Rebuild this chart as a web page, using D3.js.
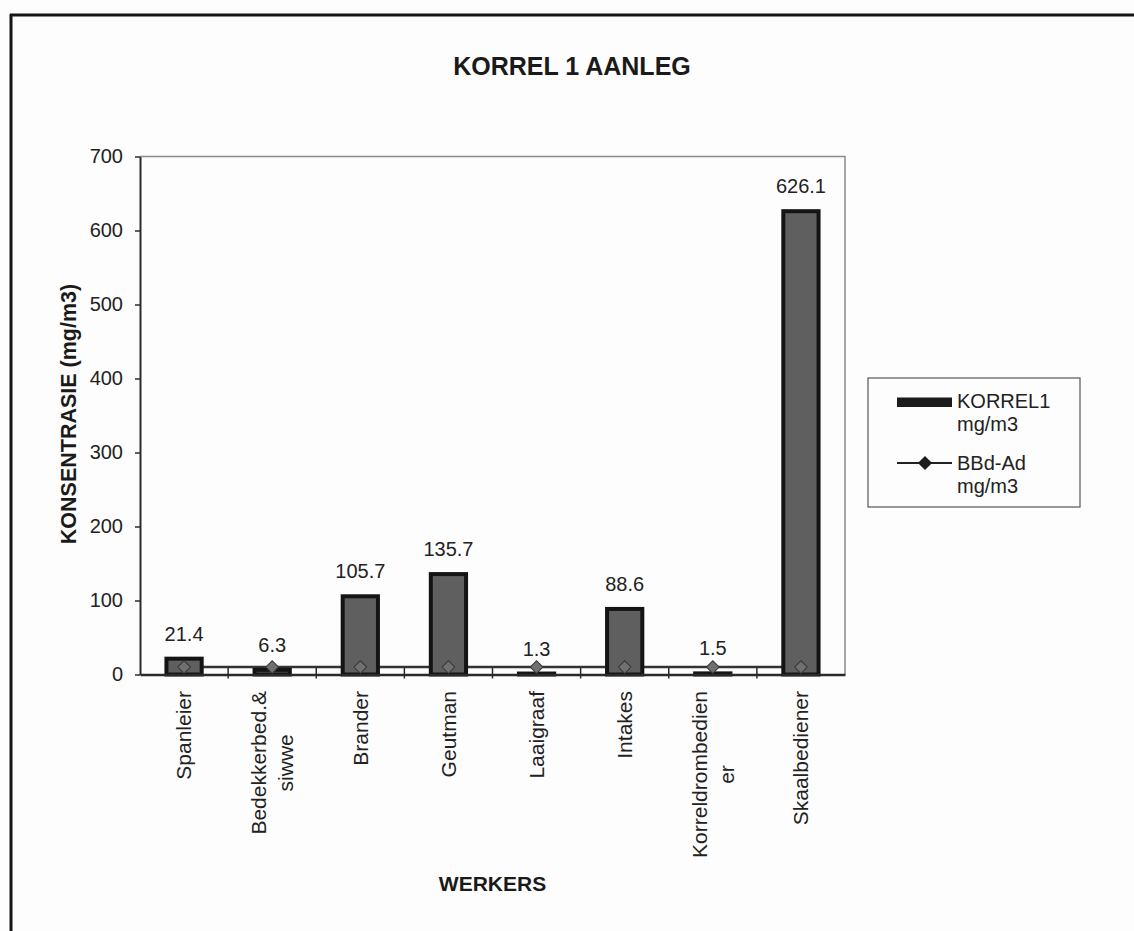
<!DOCTYPE html>
<html>
<head>
<meta charset="utf-8">
<script src="https://cdn.jsdelivr.net/npm/d3@7"></script>
<style>
  html, body { margin: 0; padding: 0; background: #fdfdfd; }
  svg { display: block; font-family: "Liberation Sans", Arial, sans-serif; }
</style>
</head>
<body>
<svg id="chart" width="1134" height="931"></svg>
<script>
// Dust concentration per worker group, KORREL 1 plant
const categories = ["Spanleier", "Bedekkerbed.&\nsiwwe", "Brander", "Geutman",
                    "Laaigraaf", "Intakes", "Korreldrombedien\ner", "Skaalbediener"];
const korrelValues = [21.4, 6.3, 105.7, 135.7, 1.3, 88.6, 1.5, 626.1];
const limitValues = [10, 10, 10, 10, 10, 10, 10, 10];
const yTicks = [0, 100, 200, 300, 400, 500, 600, 700];
const seriesNames = [["KORREL1", "mg/m3"], ["BBd-Ad", "mg/m3"]];
const chartTitle = "KORREL 1 AANLEG";
const xTitle = "WERKERS";
const yTitle = "KONSENTRASIE (mg/m3)";

const svg = d3.select("#chart");
const W = 1134, H = 931;
const plot = { left: 140, right: 845, top: 156.5, bottom: 674.5 };

svg.append("rect").attr("width", W).attr("height", H).attr("fill", "#fdfdfd");

// outer chart frame (top and left edges)
svg.append("line").attr("x1", 10).attr("x2", W).attr("y1", 15).attr("y2", 15)
  .attr("stroke", "#151515").attr("stroke-width", 3);
svg.append("line").attr("x1", 11).attr("x2", 11).attr("y1", 14).attr("y2", H)
  .attr("stroke", "#151515").attr("stroke-width", 3);

// title
svg.append("text").attr("x", 572).attr("y", 75).attr("text-anchor", "middle")
  .attr("font-size", 25).attr("font-weight", "bold").attr("fill", "#1a1a1a")
  .text(chartTitle);

const x = d3.scaleBand().domain(categories)
  .range([plot.left, plot.right]).paddingInner(0.6).paddingOuter(0.3);
const y = d3.scaleLinear().domain([0, 700]).range([plot.bottom, plot.top]);

// plot area frame (top and right)
svg.append("path")
  .attr("d", `M${plot.left},${plot.top}H${plot.right}V${plot.bottom}`)
  .attr("fill", "none").attr("stroke", "#8a8a8a").attr("stroke-width", 1.5);

// limit line (drawn beneath the bars)
const line = d3.line().x((d, i) => x(categories[i]) + x.bandwidth() / 2).y(d => y(d));
svg.append("path").datum(limitValues).attr("d", line)
  .attr("fill", "none").attr("stroke", "#333").attr("stroke-width", 2.5);

// bars
svg.append("g").selectAll("rect").data(korrelValues).join("rect")
  .attr("x", (d, i) => x(categories[i]))
  .attr("y", d => y(d))
  .attr("width", x.bandwidth())
  .attr("height", d => y(0) - y(d))
  .attr("fill", "#5f5f5f")
  .attr("stroke", "#141414").attr("stroke-width", 4);

// limit markers
const diamond = d3.symbol().type(d3.symbolSquare).size(80);
svg.append("g").selectAll("path").data(limitValues).join("path")
  .attr("d", diamond)
  .attr("transform", (d, i) => `translate(${x(categories[i]) + x.bandwidth() / 2},${y(d)}) rotate(45)`)
  .attr("fill", "#707070").attr("stroke", "#383838").attr("stroke-width", 1);

// value labels
svg.append("g").selectAll("text").data(korrelValues).join("text")
  .attr("x", (d, i) => x(categories[i]) + x.bandwidth() / 2)
  .attr("y", d => y(d) - 18)
  .attr("text-anchor", "middle").attr("font-size", 20).attr("fill", "#222")
  .text(d => d.toFixed(1));

// y axis
const yAxis = svg.append("g").attr("transform", `translate(${plot.left},0)`)
  .call(d3.axisLeft(y).tickValues(yTicks).tickSize(5).tickSizeOuter(0).tickPadding(12));
yAxis.select(".domain").attr("stroke", "#2a2a2a").attr("stroke-width", 2);
yAxis.selectAll(".tick line").attr("stroke", "#2a2a2a").attr("stroke-width", 1.5);
yAxis.selectAll(".tick text").attr("font-size", 20).attr("fill", "#222")
  .attr("font-family", "Liberation Sans, Arial, sans-serif");

// x axis with tick marks between categories
const xAxis = svg.append("g").attr("transform", `translate(0,${plot.bottom})`)
  .call(d3.axisBottom(x).tickSize(0).tickSizeOuter(0).tickFormat(""));
xAxis.select(".domain").attr("stroke", "#2a2a2a").attr("stroke-width", 2.5);
const bounds = d3.range(1, categories.length).map(i => x.range()[0] + i * x.step());
xAxis.selectAll("line.sep").data(bounds).join("line").attr("class", "sep")
  .attr("x1", d => d).attr("x2", d => d).attr("y1", -7).attr("y2", 4)
  .attr("stroke", "#2a2a2a").attr("stroke-width", 1.5);

// rotated category labels; multi-line labels are centred within their block
const labelTop = 691, lineGap = 27, fs = 21;
categories.forEach(cat => {
  const lines = cat.split("\n");
  const cx = x(cat) + x.bandwidth() / 2;
  const g = svg.append("g");
  const texts = lines.map(ln => g.append("text")
    .attr("font-size", fs).attr("fill", "#222").attr("text-anchor", "middle").text(ln));
  const maxLen = d3.max(texts, t => t.node().getComputedTextLength());
  const mid = labelTop + maxLen / 2;
  texts.forEach((t, j) => {
    const bx = cx + (j - (lines.length - 1) / 2) * lineGap + 0.35 * fs;
    t.attr("transform", `translate(${bx},${mid}) rotate(-90)`);
  });
});

// axis titles
svg.append("text").attr("x", (plot.left + plot.right) / 2).attr("y", 891)
  .attr("text-anchor", "middle").attr("font-size", 21).attr("font-weight", "bold")
  .attr("fill", "#1a1a1a").text(xTitle);
svg.append("text")
  .attr("transform", `translate(76,414) rotate(-90)`)
  .attr("text-anchor", "middle").attr("font-size", 21.5).attr("font-weight", "bold")
  .attr("fill", "#1a1a1a").text(yTitle);

// legend
const lg = svg.append("g");
lg.append("rect").attr("x", 868).attr("y", 378).attr("width", 212).attr("height", 129)
  .attr("fill", "#fdfdfd").attr("stroke", "#555").attr("stroke-width", 1.2);
lg.append("rect").attr("x", 897).attr("y", 397.5).attr("width", 55).attr("height", 9.5)
  .attr("fill", "#1c1c1c");
lg.append("line").attr("x1", 897).attr("x2", 952).attr("y1", 463).attr("y2", 463)
  .attr("stroke", "#222").attr("stroke-width", 2);
lg.append("path").attr("d", d3.symbol().type(d3.symbolSquare).size(100))
  .attr("transform", "translate(925,463) rotate(45)").attr("fill", "#1c1c1c");
const legendBase = [[408, 431], [470, 493]];
seriesNames.forEach((nm, i) => {
  nm.forEach((t, j) => lg.append("text").attr("x", 957).attr("y", legendBase[i][j])
    .attr("font-size", 20).attr("fill", "#222").text(t));
});
</script>
</body>
</html>
